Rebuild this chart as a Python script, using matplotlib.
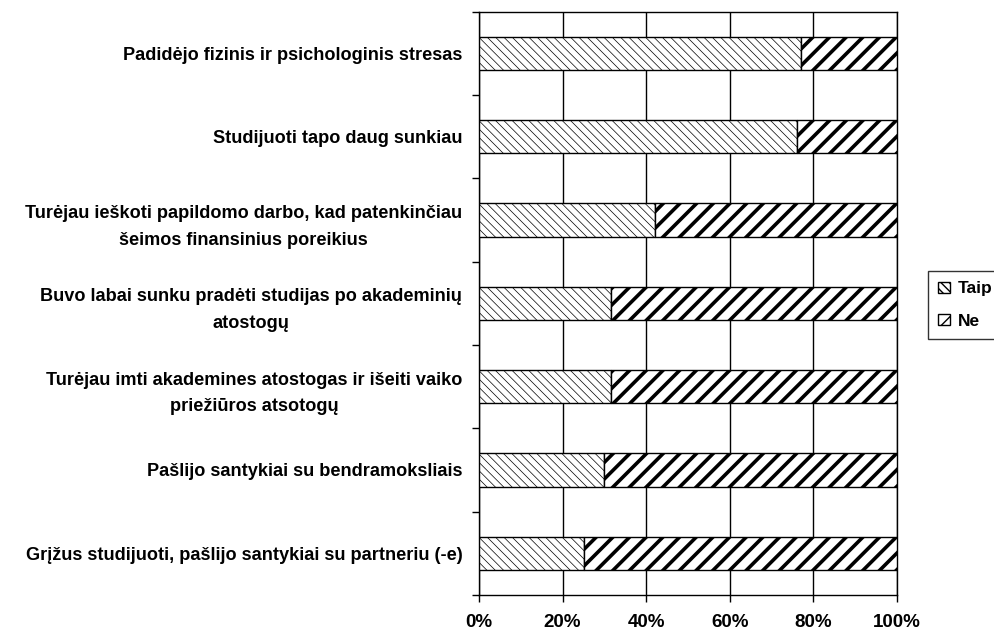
import matplotlib

matplotlib.use("Agg")
import matplotlib.pyplot as plt
import numpy as np

plt.rcParams["font.family"] = ["Liberation Sans", "DejaVu Sans"]
plt.rcParams["font.weight"] = "bold"

# Categories, top to bottom as in the chart
categories = [
    "Padidėjo fizinis ir psichologinis stresas",
    "Studijuoti tapo daug sunkiau",
    "Turėjau ieškoti papildomo darbo, kad patenkinčiau\nšeimos finansinius poreikius",
    "Buvo labai sunku pradėti studijas po akademinių\natostogų",
    "Turėjau imti akademines atostogas ir išeiti vaiko\npriežiūros atsotogų",
    "Pašlijo santykiai su bendramoksliais",
    "Grįžus studijuoti, pašlijo santykiai su partneriu (-e)",
]
taip = [77, 76, 42, 31.5, 31.5, 30, 25]
ne = [100 - v for v in taip]
x_ticks = [0, 20, 40, 60, 80, 100]

fig = plt.figure(figsize=(9.95, 6.32), dpi=100)
ax = fig.add_axes([479 / 995, 37 / 632, 418 / 995, 583.5 / 632])

y = np.arange(len(categories))[::-1]
h = 0.4

b1 = ax.barh(y, taip, height=h, color="white", edgecolor="black",
             hatch="\\\\\\\\", linewidth=1, label="Taip", zorder=3)
b2 = ax.barh(y, ne, left=taip, height=h, color="white", edgecolor="black",
             hatch="//", linewidth=1, label="Ne", zorder=3)
for p in b1:
    if hasattr(p, "set_hatch_linewidth"):
        p.set_hatch_linewidth(0.5)
for p in b2:
    if hasattr(p, "set_hatch_linewidth"):
        p.set_hatch_linewidth(2.6)

ax.set_xlim(0, 100)
ax.set_ylim(-0.5, len(categories) - 0.5)
ax.set_xticks(x_ticks)
ax.set_xticklabels([f"{v}%" for v in x_ticks], fontsize=13.5, fontweight="bold")
ax.set_yticks(y)
ax.set_yticklabels(categories, fontsize=13.1, fontweight="bold",
                   multialignment="center", linespacing=1.75)
ax.set_yticks(np.arange(-0.5, len(categories)), minor=True)
ax.tick_params(axis="y", which="major", length=0, pad=12)
ax.tick_params(axis="y", which="minor", length=5, width=1, direction="out")
ax.tick_params(axis="x", length=5, width=1, direction="out", pad=8.5)

ax.grid(axis="x", color="black", linewidth=1, zorder=0)
for s in ax.spines.values():
    s.set_linewidth(1)

leg = fig.legend(handles=[b1, b2], loc="upper left",
                 bbox_to_anchor=(928 / 995, 1 - 271 / 632),
                 frameon=True, fancybox=False, edgecolor="black",
                 prop={"weight": "bold", "size": 12.5},
                 handlelength=0.65, handleheight=0.65, handletextpad=0.45,
                 borderpad=0.6, labelspacing=1.0, borderaxespad=0)
leg.get_frame().set_linewidth(1)

fig.savefig("out.png", dpi=100)
